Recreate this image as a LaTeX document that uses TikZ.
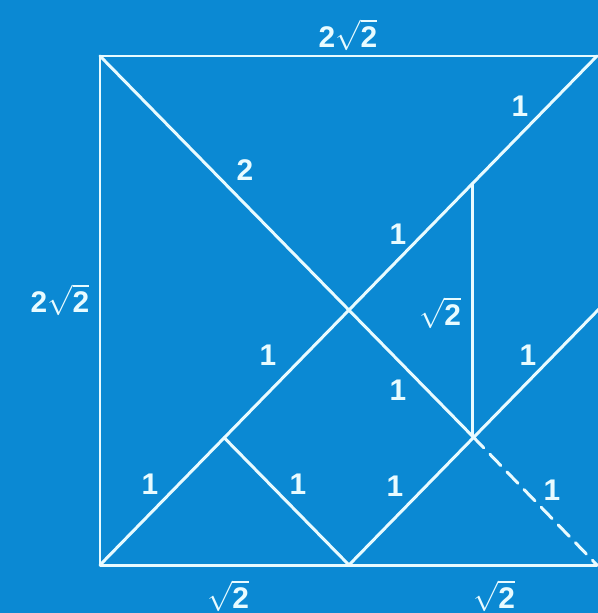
\documentclass[tikz,border=0pt]{standalone}
\usepackage{fontspec}
\setmainfont{Liberation Sans}
\usepackage{tikz}
\usetikzlibrary{positioning, calc}
\definecolor{bgblue}{HTML}{0B89D3}
\definecolor{chalk}{HTML}{E8FBFF}

\begin{document}
\begin{tikzpicture}[
      x=0.02cm, y=-0.02cm,
      edge/.style={draw=chalk, line width=1.7pt, line cap=round, line join=round},
      dashedge/.style={edge, dashed, dash pattern=on 9pt off 5pt},
      lab/.style={text=chalk, font=\fontsize{17}{19}\selectfont\bfseries, inner sep=1pt}
  ]
      % Background
      \fill[bgblue] (0,0) rectangle (598,613);
      \useasboundingbox (0,0) rectangle (598,613);

      % Corner and grid points
      \coordinate (TL) at (100,56);
      \coordinate (TR) at (597,56);
      \coordinate (BL) at (100,565);
      \coordinate (BR) at (597,565);
      \coordinate (BM) at (349,565);
      \coordinate (RM) at (600,308);
      \coordinate (C) at ($(BL)!0.5!(TR)$);
      \coordinate (Q1) at ($(BL)!0.25!(TR)$);
      \coordinate (Q3) at ($(BL)!0.75!(TR)$);
      \coordinate (X) at (Q3 |- {$(BM)!0.5!(RM)$});

      % Outline
      \draw[edge] (TR) -- (TL) -- (BL) -- (BM) -- (BR);

      % Inner lines
      \draw[edge] (BL) -- (TR);
      \draw[edge] (TL) -- (X);
      \draw[dashedge] (X) -- (BR);
      \draw[edge] (Q3) -- (X);
      \draw[edge] (Q1) -- (BM);
      \draw[edge] (BM) -- (RM);

      % Labels
      \node[lab] (top) at (348,35) {2$\sqrt{\mbox{\bfseries 2}}$};
      \node[lab] (left) at (60,300) {2$\sqrt{\mbox{\bfseries 2}}$};
      \node[lab] (botl) at (228,596) {$\sqrt{\mbox{\bfseries 2}}$};
      \node[lab] (botr) at (494,596) {$\sqrt{\mbox{\bfseries 2}}$};
      \node[lab] (vert) at (440,313) {$\sqrt{\mbox{\bfseries 2}}$};
      \node[lab] (two) at (245,170) {2};
      \node[lab] (a) at (520,106) {1};
      \node[lab] (b) at (398,234) {1};
      \node[lab] (c) at (268,355) {1};
      \node[lab] (d) at (398,390) {1};
      \node[lab] (e) at (528,355) {1};
      \node[lab] (f) at (150,484) {1};
      \node[lab] (g) at (298,484) {1};
      \node[lab] (h) at (395,486) {1};
      \node[lab] (i) at (552,490) {1};
  \end{tikzpicture}
\end{document}
